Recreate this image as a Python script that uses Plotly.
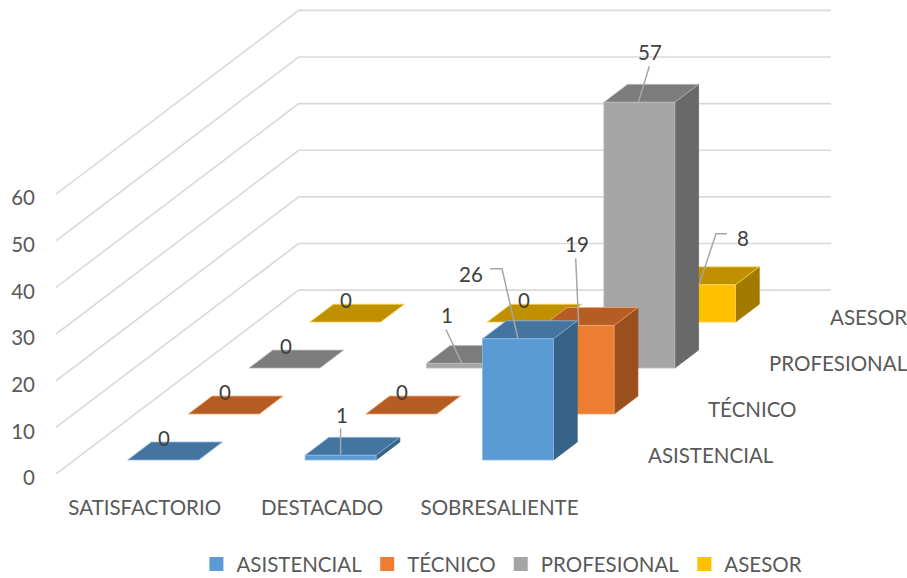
import plotly.graph_objects as go

categories = ["SATISFACTORIO", "DESTACADO", "SOBRESALIENTE"]
series_names = ["ASISTENCIAL", "TÉCNICO", "PROFESIONAL", "ASESOR"]
asistencial = [0, 1, 26]
tecnico = [0, 0, 19]
profesional = [0, 1, 57]
asesor = [0, 0, 8]
value_ticks = [0, 10, 20, 30, 40, 50, 60]

series_values = [asistencial, tecnico, profesional, asesor]
front_colors = ["#5B9BD5", "#ED7D31", "#A5A5A5", "#FFC000"]
top_colors = ["#4475A1", "#B55D22", "#7C7C7C", "#BF9000"]
side_colors = ["#376388", "#9A4F1C", "#696969", "#A27A00"]
edge_colors = ["#8DB9E2", "#F0A878", "#BDBDBD", "#FFD75E"]

FONT = "Lato"
FONT_SIZE = 20.5
TEXT = "#595959"
LABEL = "#404040"
GRID = "#D9D9D9"

# Oblique projection: one depth row moves 60.7 px right and 46 px up.
PX_PER_CAT = 177.5
PX_PER_VAL = 4.667
DEPTH_X = 60.7 / PX_PER_CAT
DEPTH_Y = 46 / PX_PER_VAL
BAR_W = 0.4
BAR_D = 0.391


def project(c, d, v):
    return c + d * DEPTH_X, v + d * DEPTH_Y


def poly(points):
    xs, ys = zip(*[project(*p) for p in points])
    return list(xs) + [xs[0], None], list(ys) + [ys[0], None]


fig = go.Figure()

# Walls and floor grid
nrows = len(series_names)
ncats = len(categories)
gx, gy = [], []
for t in value_ticks:
    for (c, d) in [(0, 0), (0, nrows), (ncats, nrows)]:
        x, y = project(c, d, t)
        gx.append(x)
        gy.append(y)
    gx.append(None)
    gy.append(None)
fig.add_trace(go.Scatter(x=gx, y=gy, mode="lines", line=dict(color=GRID, width=1.6),
                         showlegend=False, hoverinfo="skip"))

# Bars, back row first
for r in reversed(range(nrows)):
    faces = {"side": ([], []), "top": ([], []), "front": ([], [])}
    d0 = r + (1 - BAR_D) / 2
    d1 = d0 + BAR_D
    for i, v in enumerate(series_values[r]):
        c0 = i + (1 - BAR_W) / 2
        c1 = c0 + BAR_W
        shapes = {
            "side": [(c1, d0, 0), (c1, d1, 0), (c1, d1, v), (c1, d0, v)],
            "top": [(c0, d0, v), (c1, d0, v), (c1, d1, v), (c0, d1, v)],
            "front": [(c0, d0, 0), (c1, d0, 0), (c1, d0, v), (c0, d0, v)],
        }
        for k, pts in shapes.items():
            if v == 0 and k != "top":
                continue
            xs, ys = poly(pts)
            faces[k][0].extend(xs)
            faces[k][1].extend(ys)
    styles = {"side": side_colors[r], "top": top_colors[r], "front": front_colors[r]}
    for k in ["side", "top", "front"]:
        line_col = edge_colors[r] if k != "side" else side_colors[r]
        fig.add_trace(go.Scatter(x=faces[k][0], y=faces[k][1], mode="lines", fill="toself",
                                 fillcolor=styles[k], line=dict(color=line_col, width=0.8),
                                 showlegend=False, hoverinfo="skip"))

# Data labels: pixel offset of the text from the bar's front-top centre, and leader path
label_style = {
    (0, 0): ((1, -22), None),
    (1, 0): ((1, -22), None),
    (2, 0): ((1, -22), None),
    (3, 0): ((1, -22), None),
    (0, 1): ((1, -40), [(0, -27), (0, -1)]),
    (1, 1): ((1, -22), None),
    (2, 1): ((-15, -48), [(-16, -34), (0, 0)]),
    (3, 1): ((1, -22), None),
    (0, 2): ((-47, -65), [(-28, -70), (-16, -70), (0, 0)]),
    (1, 2): ((-2, -81), [(-3, -67), (0, -1)]),
    (2, 2): ((11, -50), [(10, -36), (-1, 0)]),
    (3, 2): ((43, -47), [(27, -51), (16, -51), (-1, 0)]),
}
for (r, i), (offset, leader) in label_style.items():
    v = series_values[r][i]
    x0, y0 = project(i + 0.5, r + (1 - BAR_D) / 2, v)
    if leader:
        fig.add_trace(go.Scatter(
            x=[x0 + p[0] / PX_PER_CAT for p in leader],
            y=[y0 - p[1] / PX_PER_VAL for p in leader],
            mode="lines", line=dict(color="#A6A6A6", width=1.5),
            showlegend=False, hoverinfo="skip"))
    fig.add_annotation(x=x0, y=y0, xref="x", yref="y", text=str(v), showarrow=False,
                       xshift=offset[0], yshift=-offset[1],
                       font=dict(family=FONT, size=FONT_SIZE, color=LABEL))

# Depth axis labels
for r, name in enumerate(series_names):
    x, y = project(ncats, r + 0.5, 0)
    fig.add_annotation(x=x, y=y, xref="x", yref="y", text=name, showarrow=False,
                       xanchor="left", xshift=27, yshift=-4,
                       font=dict(family=FONT, size=FONT_SIZE, color=TEXT))

# Legend entries
for r, name in enumerate(series_names):
    fig.add_trace(go.Scatter(x=[None], y=[None], mode="markers", name=name,
                             marker=dict(symbol="square", size=14, color=front_colors[r])))

fig.update_layout(
    width=907, height=578,
    margin=dict(l=55.6, r=0, t=0, b=103.6, pad=0, autoexpand=False),
    paper_bgcolor="white", plot_bgcolor="white",
    font=dict(family=FONT, size=FONT_SIZE, color=TEXT),
    xaxis=dict(range=[0, 851.4 / PX_PER_CAT], showgrid=False, zeroline=False, showline=False,
               tickmode="array", tickvals=[i + 0.5 for i in range(ncats)], ticktext=categories,
               ticks="", ticklabelstandoff=19),
    yaxis=dict(range=[0, 474.4 / PX_PER_VAL], showgrid=False, zeroline=False, showline=False,
               tickmode="array", tickvals=value_ticks, ticks="",
               ticklabelstandoff=20, ticklabelshift=4),
    legend=dict(orientation="h", x=0.165, xanchor="left", y=-0.148, yanchor="top",
                font=dict(family=FONT, size=FONT_SIZE, color=TEXT), traceorder="normal"),
    showlegend=True,
)
fig.write_html("out.html", config={"displayModeBar": False},
               post_script="document.body.style.margin='0';")
